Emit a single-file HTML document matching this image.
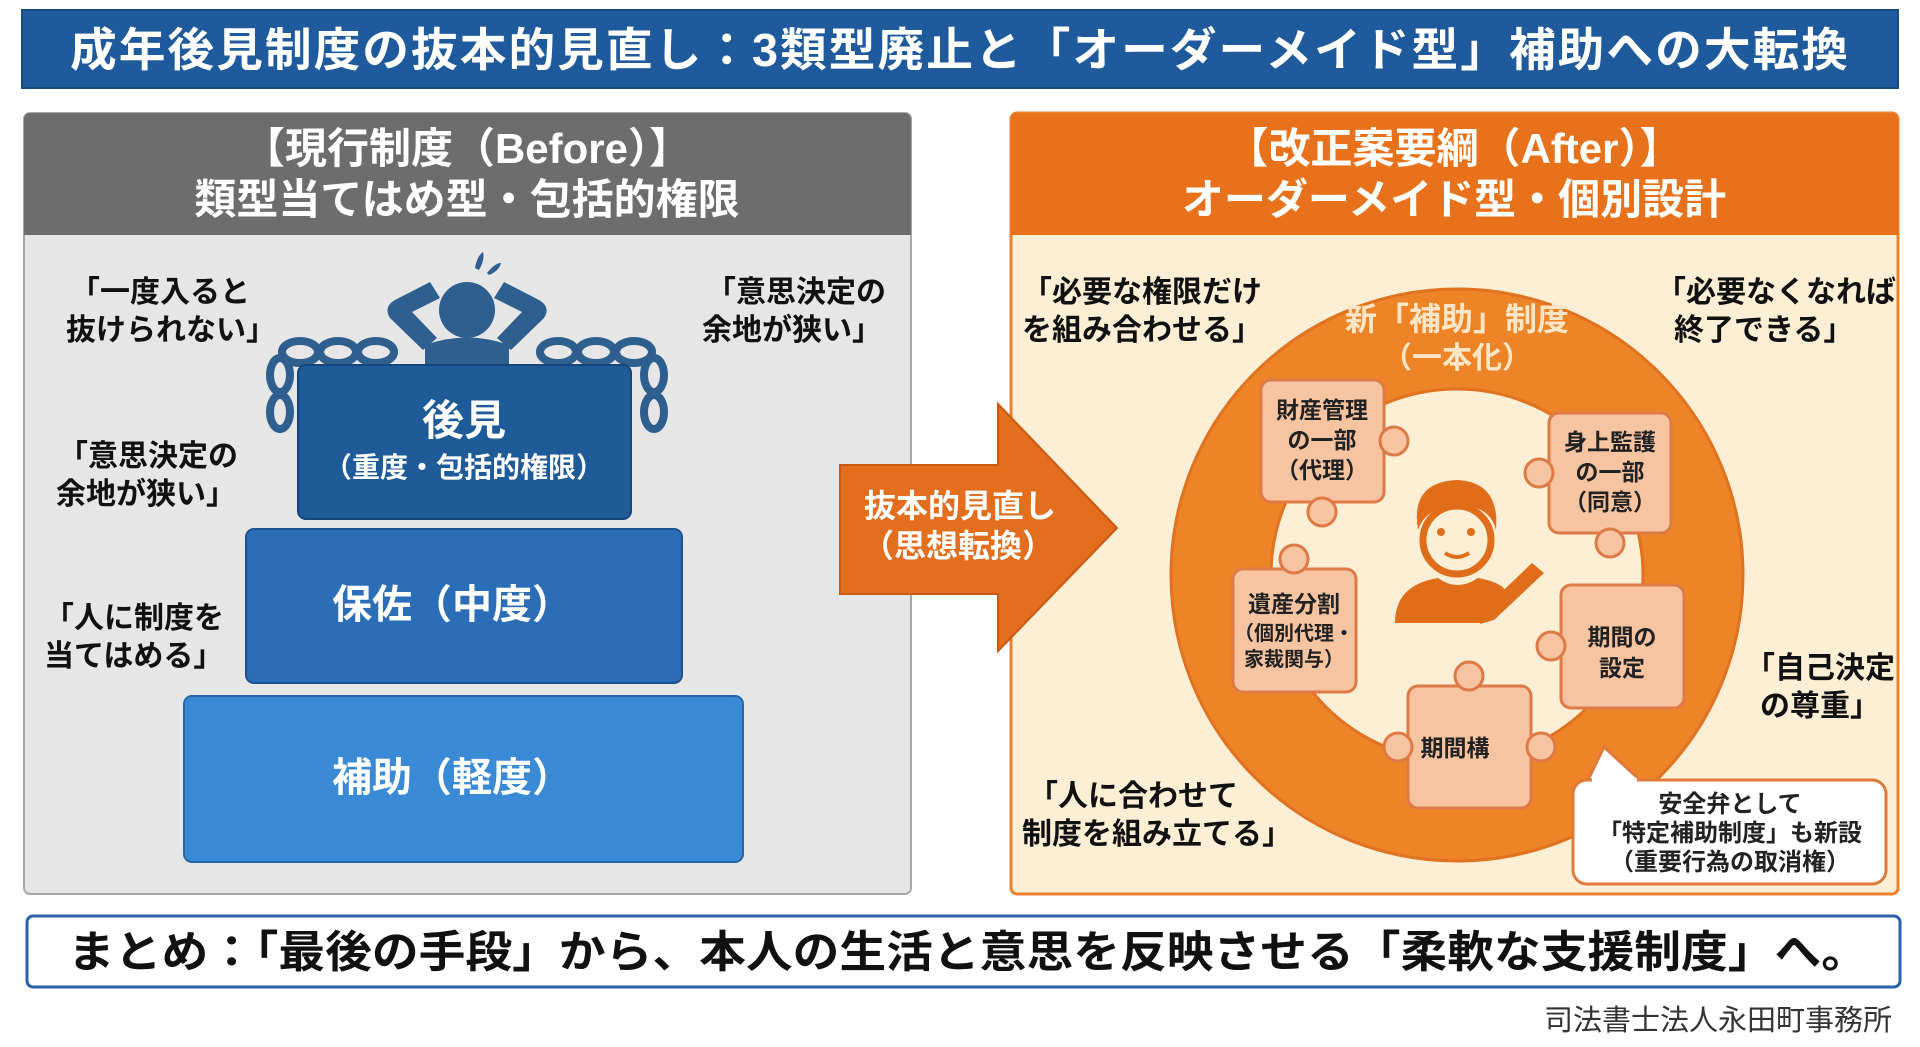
<!DOCTYPE html>
<html><head><meta charset="utf-8"><style>
html,body{margin:0;padding:0;background:#fff;}
svg{display:block;font-family:"Liberation Sans","Noto Sans CJK JP",sans-serif;font-weight:bold;}
</style></head><body>
<svg width="1920" height="1047" viewBox="0 0 1920 1047" xmlns="http://www.w3.org/2000/svg">
<rect width="1920" height="1047" fill="#ffffff"/>
<!-- Title -->
<rect x="22" y="10" width="1876" height="78" fill="#1f5a9c" stroke="#174a82" stroke-width="2"/>
<text x="960" y="66" text-anchor="middle" font-size="46" letter-spacing="2" fill="#fff" textLength="1780" lengthAdjust="spacingAndGlyphs">成年後見制度の抜本的見直し：3類型廃止と「オーダーメイド型」補助への大転換</text>

<!-- Before panel -->
<rect x="24" y="113" width="887" height="781" rx="6" fill="#e6e6e6" stroke="#a8a8a8" stroke-width="2"/>
<path d="M24 119 a6 6 0 0 1 6 -6 h875 a6 6 0 0 1 6 6 V235 H24Z" fill="#6d6d6d"/>
<text x="467" y="163" text-anchor="middle" font-size="42" fill="#fff">【現行制度（Before）】</text>
<text x="467" y="214" text-anchor="middle" font-size="42" fill="#fff">類型当てはめ型・包括的権限</text>

<g font-size="30" fill="#111">
<text x="70" y="302">「一度入ると</text><text x="66" y="340">抜けられない」</text>
<text x="706" y="302">「意思決定の</text><text x="702" y="340">余地が狭い」</text>
<text x="58" y="466">「意思決定の</text><text x="56" y="504">余地が狭い」</text>
<text x="44" y="628">「人に制度を</text><text x="44" y="666">当てはめる」</text>
</g>

<!-- figure -->
<g fill="#2f5f8f">
<path d="M430 282 L395 300 Q383 307 390 318 L423 350 L437 338 L412 312 L440 298Z"/>
<path d="M504 282 L539 300 Q551 307 544 318 L511 350 L497 338 L522 312 L494 298Z"/>
<circle cx="467" cy="310" r="28"/>
<path d="M425 345 Q467 330 509 345 V372 H425Z"/>
<path d="M475 268 q2 -12 8 -16 q2 8 -4 18Z"/>
<path d="M487 273 q8 -10 14 -10 q-2 8 -12 12Z"/>
</g>
<g fill="none" stroke="#2f5f8f" stroke-width="8">
<ellipse cx="300" cy="352" rx="18" ry="11"/>
<ellipse cx="338" cy="352" rx="18" ry="11"/>
<ellipse cx="376" cy="352" rx="18" ry="11"/>
<ellipse cx="280" cy="375" rx="10" ry="17"/>
<ellipse cx="280" cy="412" rx="10" ry="17"/>
<ellipse cx="558" cy="352" rx="18" ry="11"/>
<ellipse cx="596" cy="352" rx="18" ry="11"/>
<ellipse cx="634" cy="352" rx="18" ry="11"/>
<ellipse cx="654" cy="375" rx="10" ry="17"/>
<ellipse cx="654" cy="412" rx="10" ry="17"/>
</g>

<!-- pyramid -->
<rect x="184" y="696" width="559" height="166" rx="8" fill="#3a8ad6" stroke="#2766a8" stroke-width="2"/>
<text x="452" y="791" text-anchor="middle" font-size="40" fill="#fff">補助（軽度）</text>
<rect x="246" y="529" width="436" height="154" rx="8" fill="#2b6db6" stroke="#1e5190" stroke-width="2"/>
<text x="452" y="618" text-anchor="middle" font-size="40" fill="#fff">保佐（中度）</text>
<rect x="298" y="365" width="333" height="154" rx="8" fill="#1f5a99" stroke="#17467a" stroke-width="2"/>
<text x="464" y="435" text-anchor="middle" font-size="42" fill="#fff">後見</text>
<text x="464" y="477" text-anchor="middle" font-size="28" fill="#fff">（重度・包括的権限）</text>

<!-- After panel -->
<rect x="1011" y="113" width="887" height="781" rx="6" fill="#fdefd5" stroke="#ea8030" stroke-width="3"/>
<path d="M1011 119 a6 6 0 0 1 6 -6 h875 a6 6 0 0 1 6 6 V235 H1011Z" fill="#e8721b"/>
<text x="1454" y="163" text-anchor="middle" font-size="42" fill="#fff">【改正案要綱（After）】</text>
<text x="1454" y="214" text-anchor="middle" font-size="42" fill="#fff">オーダーメイド型・個別設計</text>

<g font-size="30" fill="#111">
<text x="1022" y="302">「必要な権限だけ</text><text x="1022" y="340">を組み合わせる」</text>
<text x="1656" y="302">「必要なくなれば</text><text x="1674" y="340">終了できる」</text>
<text x="1745" y="678">「自己決定</text><text x="1760" y="716">の尊重」</text>
<text x="1028" y="806">「人に合わせて</text><text x="1022" y="844">制度を組み立てる」</text>
</g>

<!-- ring -->
<circle cx="1457" cy="575" r="286" fill="#ee8428" stroke="#e07220" stroke-width="3"/>
<circle cx="1457" cy="575" r="186" fill="#fdefd5" stroke="#e07220" stroke-width="3"/>
<text x="1457" y="330" text-anchor="middle" font-size="32" fill="#fde6c6">新「補助」制度</text>
<text x="1457" y="368" text-anchor="middle" font-size="30" fill="#fde6c6">（一本化）</text>

<!-- puzzle pieces -->
<g fill="#f7c4a2" stroke="#dd7a45" stroke-width="3">
<rect x="1261" y="380" width="123" height="122" rx="10"/>
<circle cx="1394" cy="441" r="14"/><circle cx="1322" cy="512" r="14"/>
<rect x="1549" y="413" width="122" height="120" rx="10"/>
<circle cx="1539" cy="473" r="14"/><circle cx="1610" cy="543" r="14"/>
<rect x="1233" y="569" width="123" height="123" rx="10"/>
<circle cx="1294" cy="559" r="14"/>
<rect x="1561" y="585" width="123" height="123" rx="10"/>
<circle cx="1551" cy="646" r="14"/>
<rect x="1408" y="686" width="123" height="122" rx="10"/>
<circle cx="1398" cy="747" r="14"/><circle cx="1469" cy="676" r="14"/><circle cx="1541" cy="747" r="14"/>
</g>
<g font-size="23" fill="#222" text-anchor="middle">
<text x="1322" y="418">財産管理</text><text x="1322" y="448">の一部</text><text x="1322" y="478">（代理）</text>
<text x="1610" y="450">身上監護</text><text x="1610" y="480">の一部</text><text x="1610" y="510">（同意）</text>
<text x="1294" y="612">遺産分割</text><text x="1294" y="640" font-size="20">（個別代理・</text><text x="1294" y="666" font-size="20">家裁関与）</text>
<text x="1622" y="645">期間の</text><text x="1622" y="676">設定</text>
<text x="1455" y="756">期間構</text>
</g>

<!-- person -->
<g fill="#e06d1a">
<path d="M1418 530 Q1410 482 1457 480 Q1500 482 1496 530 Q1490 505 1457 505 Q1425 508 1418 530Z"/>
<path d="M1395 623 Q1395 585 1438 578 Q1457 592 1478 578 Q1500 582 1505 590 L1483 623Z"/>
<path d="M1532 563 L1544 573 L1494 620 L1480 624 L1483 610Z"/>
</g>
<circle cx="1457" cy="540" r="34" fill="none" stroke="#e06d1a" stroke-width="7"/>
<circle cx="1441" cy="532" r="4" fill="#e06d1a"/><circle cx="1471" cy="532" r="4" fill="#e06d1a"/>
<path d="M1445 553 Q1457 561 1469 553" fill="none" stroke="#e06d1a" stroke-width="4"/>

<!-- bubble -->
<path d="M1588 780 L1604 747 L1640 780Z" fill="#fff" stroke="#e07a3a" stroke-width="3"/>
<rect x="1573" y="780" width="313" height="104" rx="14" fill="#fff" stroke="#e07a3a" stroke-width="3"/>
<rect x="1592" y="778" width="45" height="6" fill="#fff"/>
<g font-size="24" fill="#222" text-anchor="middle">
<text x="1730" y="812">安全弁として</text>
<text x="1730" y="841">「特定補助制度」も新設</text>
<text x="1730" y="870">（重要行為の取消権）</text>
</g>

<!-- Arrow (on top) -->
<path d="M840 465 H998 V404 L1117 528 L998 651 V594 H840Z" fill="#e36e1e" stroke="#c85a12" stroke-width="2"/>
<text x="960" y="517" text-anchor="middle" font-size="32" fill="#fff">抜本的見直し</text>
<text x="958" y="557" text-anchor="middle" font-size="32" fill="#fff">（思想転換）</text>

<!-- summary -->
<rect x="27" y="916" width="1873" height="71" rx="6" fill="#fff" stroke="#2a62a8" stroke-width="3"/>
<text x="968" y="967" text-anchor="middle" font-size="44" fill="#111" textLength="1800" lengthAdjust="spacingAndGlyphs">まとめ：「最後の手段」から、本人の生活と意思を反映させる「柔軟な支援制度」へ。</text>
<text x="1892" y="1030" text-anchor="end" font-size="29" font-weight="normal" fill="#333">司法書士法人永田町事務所</text>
</svg>
</body></html>
